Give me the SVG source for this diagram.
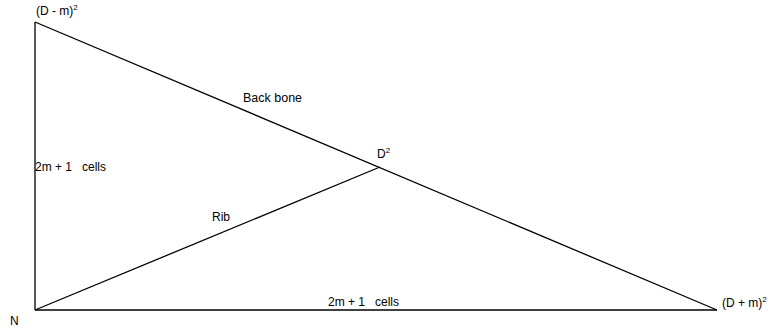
<svg xmlns="http://www.w3.org/2000/svg" width="775" height="331" viewBox="0 0 775 331">
<style>
text{font-family:"Liberation Sans",Arial,sans-serif;font-size:12px;fill:#000;white-space:pre}
.sup{font-size:8px}
line{stroke:#000;stroke-width:1.3}
</style>
<rect width="775" height="331" fill="#fff"/>
<g id="connectors">
<line x1="35" y1="22" x2="35" y2="310"/>
<line x1="35" y1="310" x2="717" y2="310"/>
<line x1="35" y1="22" x2="717" y2="310"/>
<line x1="35" y1="310" x2="380" y2="167"/>
</g>
<g id="labels">
<text x="36" y="15">(D - m)<tspan class="sup" dy="-5">2</tspan></text>
<text x="243" y="102" style="font-size:12.5px">Back bone</text>
<text x="377" y="158">D<tspan class="sup" dy="-5">2</tspan></text>
<text x="35" y="171" xml:space="preserve">2m + 1   cells</text>
<text x="212" y="221">Rib</text>
<text x="328" y="306" xml:space="preserve">2m + 1   cells</text>
<text x="722" y="307">(D + m)<tspan class="sup" dy="-5">2</tspan></text>
<text x="10" y="325">N</text>
</g>
</svg>
